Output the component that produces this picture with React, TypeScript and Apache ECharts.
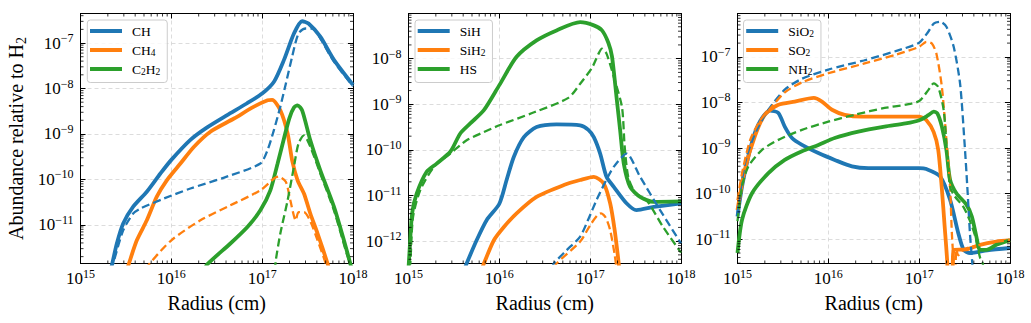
import React, { useEffect, useRef } from 'react';
import * as echarts from 'echarts';

type Pt = [number, number];

const FONT = 'Liberation Serif';
const BLUE = '#1f77b4';
const ORANGE = '#ff7f0e';
const GREEN = '#2ca02c';
const COLORS = [BLUE, ORANGE, GREEN];

// x: log10(radius / cm), y: log10(abundance relative to H2)
const X_RANGE: Pt = [15, 18];
const Y_RANGES: Pt[] = [[-11.85, -6.35], [-12.49, -7.01], [-11.53, -6.05]];

// ---- Panel 1 ----
const CH_SOLID: Pt[] = [[15.33,-12.0],[15.35,-11.85],[15.40,-11.41],[15.47,-10.97],[15.58,-10.60],[15.73,-10.27],[15.88,-9.87],[16.0,-9.57],[16.21,-9.13],[16.39,-8.86],[16.61,-8.59],[16.83,-8.33],[17.0,-8.11],[17.13,-7.85],[17.24,-7.37],[17.35,-6.79],[17.44,-6.52],[17.51,-6.57],[17.64,-6.86],[17.79,-7.37],[18.0,-7.92]];
const CH_DASH: Pt[] = [[15.34,-12.0],[15.36,-11.85],[15.47,-11.12],[15.58,-10.75],[15.66,-10.64],[15.92,-10.42],[16.21,-10.20],[16.61,-9.94],[16.98,-9.65],[17.06,-9.35],[17.13,-8.91],[17.20,-8.40],[17.26,-7.90],[17.33,-7.30],[17.40,-6.79],[17.48,-6.68],[17.55,-6.68],[17.64,-6.90],[17.79,-7.41],[18.0,-7.95]];
const CH4_SOLID: Pt[] = [[15.51,-12.0],[15.53,-11.87],[15.62,-11.34],[15.73,-10.90],[15.84,-10.38],[15.95,-10.02],[16.10,-9.65],[16.25,-9.28],[16.43,-8.95],[16.69,-8.66],[16.91,-8.40],[17.06,-8.26],[17.11,-8.25],[17.20,-8.48],[17.28,-8.99],[17.33,-9.58],[17.39,-10.02],[17.46,-10.31],[17.53,-10.75],[17.61,-11.19],[17.72,-11.85],[17.74,-12.0]];
const CH4_DASH: Pt[] = [[15.73,-12.0],[15.75,-11.88],[16.0,-11.34],[16.32,-10.90],[16.65,-10.57],[16.98,-10.24],[17.13,-9.98],[17.18,-9.94],[17.26,-10.05],[17.31,-10.46],[17.37,-10.90],[17.40,-10.72],[17.46,-10.72],[17.53,-10.92],[17.61,-11.34],[17.70,-11.85],[17.72,-12.0]];
const C2H2_SOLID: Pt[] = [[16.37,-12.0],[16.39,-11.88],[16.65,-11.41],[16.84,-11.04],[16.98,-10.68],[17.09,-10.24],[17.17,-9.65],[17.24,-9.10],[17.30,-8.65],[17.35,-8.42],[17.39,-8.37],[17.44,-8.48],[17.53,-9.14],[17.64,-9.80],[17.79,-10.60],[17.90,-11.34],[17.97,-11.85],[17.99,-12.0]];
const C2H2_DASH: Pt[] = [[17.14,-12.0],[17.15,-11.78],[17.20,-11.19],[17.28,-10.46],[17.35,-9.72],[17.40,-9.21],[17.46,-9.03],[17.53,-9.28],[17.64,-9.87],[17.79,-10.68],[17.93,-11.63],[17.97,-11.85],[17.99,-12.0]];

// ---- Panel 2 ----
const SIH_SOLID: Pt[] = [[15.62,-12.6],[15.64,-12.49],[15.75,-11.98],[15.86,-11.54],[16.0,-11.18],[16.08,-10.66],[16.16,-10.15],[16.27,-9.72],[16.41,-9.50],[16.63,-9.44],[16.89,-9.46],[16.98,-9.56],[17.04,-9.72],[17.11,-10.08],[17.18,-10.59],[17.26,-10.81],[17.40,-11.17],[17.51,-11.32],[17.70,-11.25],[18.0,-11.17]];
const SIH_DASH: Pt[] = [[16.58,-12.6],[16.60,-12.49],[16.74,-12.20],[16.89,-11.90],[16.98,-11.52],[17.07,-11.10],[17.18,-10.65],[17.26,-10.37],[17.40,-10.08],[17.55,-10.59],[17.77,-11.32],[18.0,-12.05]];
const SIH2_SOLID: Pt[] = [[15.81,-12.6],[15.83,-12.49],[15.94,-11.98],[16.05,-11.69],[16.19,-11.39],[16.41,-11.03],[16.71,-10.77],[16.89,-10.66],[17.04,-10.59],[17.15,-10.74],[17.22,-11.17],[17.27,-11.76],[17.31,-12.41],[17.32,-12.6]];
const SIH2_DASH: Pt[] = [[16.61,-12.6],[16.63,-12.49],[16.89,-12.01],[17.0,-11.65],[17.08,-11.43],[17.12,-11.39],[17.17,-11.48],[17.22,-11.76],[17.27,-12.3],[17.29,-12.6]];
const HS_SOLID: Pt[] = [[15.0,-12.6],[15.01,-12.27],[15.04,-11.39],[15.09,-10.96],[15.20,-10.48],[15.31,-10.30],[15.46,-10.04],[15.57,-9.64],[15.68,-9.42],[15.83,-9.13],[16.0,-8.58],[16.19,-7.96],[16.41,-7.60],[16.63,-7.38],[16.89,-7.20],[17.04,-7.27],[17.13,-7.38],[17.20,-7.65],[17.24,-7.95],[17.29,-8.84],[17.33,-9.57],[17.37,-10.30],[17.44,-10.81],[17.55,-11.03],[17.70,-11.14],[18.0,-11.13]];
const HS_DASH: Pt[] = [[15.01,-12.6],[15.02,-12.49],[15.05,-11.47],[15.13,-10.88],[15.28,-10.37],[15.46,-10.08],[15.64,-9.79],[15.83,-9.61],[16.0,-9.46],[16.39,-9.17],[16.76,-8.86],[16.89,-8.55],[17.02,-8.20],[17.09,-7.90],[17.13,-7.78],[17.18,-7.89],[17.26,-8.40],[17.35,-9.06],[17.38,-9.93],[17.42,-10.60],[17.50,-10.95],[17.62,-11.10],[17.80,-11.68],[18.0,-12.25]];

// ---- Panel 3 ----
const SIO2_SOLID: Pt[] = [[15.0,-10.50],[15.05,-9.84],[15.12,-9.18],[15.19,-8.67],[15.27,-8.34],[15.36,-8.18],[15.45,-8.23],[15.52,-8.53],[15.60,-8.78],[15.71,-8.93],[15.89,-9.11],[16.07,-9.26],[16.26,-9.40],[16.44,-9.44],[16.75,-9.44],[17.0,-9.44],[17.08,-9.46],[17.23,-9.62],[17.34,-10.13],[17.43,-10.86],[17.49,-11.23],[17.56,-11.30],[17.75,-11.24],[18.0,-11.19]];
const SIO2_DASH: Pt[] = [[15.0,-10.43],[15.05,-9.70],[15.10,-9.19],[15.21,-8.61],[15.34,-8.16],[15.52,-7.72],[15.71,-7.48],[16.0,-7.28],[16.39,-7.08],[16.75,-6.87],[17.0,-6.69],[17.10,-6.45],[17.16,-6.27],[17.23,-6.23],[17.30,-6.34],[17.38,-6.78],[17.45,-7.58],[17.50,-8.90],[17.53,-9.85],[17.56,-10.90],[17.585,-11.53],[17.59,-11.7]];
const SO2_SOLID: Pt[] = [[15.0,-10.36],[15.08,-9.48],[15.19,-8.75],[15.30,-8.27],[15.45,-8.05],[15.63,-7.98],[15.84,-7.90],[15.93,-7.98],[16.04,-8.16],[16.18,-8.27],[16.37,-8.31],[16.62,-8.31],[17.0,-8.31],[17.08,-8.39],[17.16,-8.65],[17.21,-9.04],[17.25,-9.90],[17.28,-10.70],[17.31,-11.53],[17.32,-12.2],[17.36,-12.2],[17.37,-11.5],[17.38,-11.23],[17.52,-11.22],[17.67,-11.12],[17.85,-11.05],[18.0,-11.02]];
const SO2_DASH: Pt[] = [[15.0,-10.14],[15.05,-9.55],[15.14,-8.82],[15.25,-8.39],[15.34,-8.18],[15.52,-7.78],[15.71,-7.56],[16.0,-7.36],[16.39,-7.15],[16.75,-6.95],[17.0,-6.78],[17.08,-6.67],[17.14,-6.71],[17.19,-6.93],[17.25,-7.66],[17.30,-8.82],[17.34,-9.85],[17.36,-10.87],[17.38,-11.53],[17.39,-11.8],[17.40,-11.6],[17.41,-11.2],[17.43,-11.35],[17.49,-11.22],[17.67,-11.12],[17.85,-11.05],[18.0,-11.02]];
const NH2_SOLID: Pt[] = [[15.0,-11.30],[15.05,-10.57],[15.16,-9.99],[15.34,-9.55],[15.52,-9.26],[15.71,-9.07],[15.89,-8.93],[16.07,-8.78],[16.33,-8.64],[16.62,-8.53],[16.85,-8.46],[17.0,-8.39],[17.10,-8.28],[17.16,-8.20],[17.20,-8.24],[17.25,-8.53],[17.30,-9.04],[17.34,-9.69],[17.41,-9.99],[17.52,-10.24],[17.58,-10.50],[17.63,-10.94],[17.67,-11.23],[17.74,-11.23],[17.85,-11.12],[18.0,-11.02]];
const NH2_DASH: Pt[] = [[15.0,-10.6],[15.05,-9.84],[15.12,-9.40],[15.27,-9.04],[15.45,-8.82],[15.71,-8.60],[16.0,-8.42],[16.29,-8.27],[16.62,-8.12],[16.85,-8.05],[17.0,-7.97],[17.10,-7.73],[17.16,-7.58],[17.21,-7.66],[17.27,-8.17],[17.31,-9.19],[17.34,-9.85],[17.39,-10.05],[17.49,-10.30],[17.56,-10.60],[17.62,-10.95],[17.67,-11.40],[17.70,-11.53],[17.71,-11.7]];

const PANEL_NAMES = [
  ['CH', 'CH4', 'C2H2'],
  ['SiH', 'SiH2', 'HS'],
  ['SiO2', 'SO2', 'NH2'],
];
const LEGEND_LABELS: Record<string, string> = {
  CH: '{n|CH}', CH4: '{n|CH}{s|4}', C2H2: '{n|C}{s|2}{n|H}{s|2}',
  SiH: '{n|SiH}', SiH2: '{n|SiH}{s|2}', HS: '{n|HS}',
  SiO2: '{n|SiO}{s|2}', SO2: '{n|SO}{s|2}', NH2: '{n|NH}{s|2}',
};
const X_TITLE = '{t|Radius (cm)}';
const Y_TITLE = '{t|Abundance relative to H}{sub|2}';
const PANEL_SOLID: Pt[][][] = [
  [CH_SOLID, CH4_SOLID, C2H2_SOLID],
  [SIH_SOLID, SIH2_SOLID, HS_SOLID],
  [SIO2_SOLID, SO2_SOLID, NH2_SOLID],
];
const PANEL_DASH: Pt[][][] = [
  [CH_DASH, CH4_DASH, C2H2_DASH],
  [SIH_DASH, SIH2_DASH, HS_DASH],
  [SIO2_DASH, SO2_DASH, NH2_DASH],
];

// layout
const GRID_LEFTS = [80.5, 408.5, 737.5];
const GRID_TOP = 13.5;
const GRID_W = 272.5;
const GRID_H = 250;
const LEGEND_LEFTS = [87.3, 415, 743.5];
const LEGEND_TOP = 20;

const powLabel = (v: number) => {
  const e = Math.round(v);
  if (Math.abs(v - e) > 1e-6) return '';
  return `{b|10}{s|${e < 0 ? '\u2212' + -e : e}}`;
};

const tickRich = {
  b: { fontSize: 17, lineHeight: 22, fontFamily: FONT, color: '#000' },
  s: { fontSize: 12, lineHeight: 13, verticalAlign: 'top', fontFamily: FONT, color: '#000' },
};

const AX_LINE = { show: true, onZero: false, lineStyle: { color: '#000', width: 1 } };
const AX_TICK = { show: true, inside: true, length: 5, lineStyle: { color: '#000', width: 1 } };
const SPLIT = {
  show: true,
  showMinLine: false,
  showMaxLine: false,
  lineStyle: { color: '#d3d3d3', width: 0.8, type: [4, 3] },
};

function minorValues(lo: number, hi: number): number[] {
  const out: number[] = [];
  for (let d = Math.floor(lo); d <= Math.ceil(hi); d++) {
    for (let m = 2; m <= 9; m++) {
      const v = d + Math.log10(m);
      if (v > lo && v < hi) out.push(v);
    }
  }
  return out;
}

function buildOption() {
  const grid: any[] = [];
  const xAxis: any[] = [];
  const yAxis: any[] = [];
  const legend: any[] = [];
  const series: any[] = [];

  for (let g = 0; g < 3; g++) {
    const [yMin, yMax] = Y_RANGES[g];
    grid.push({ left: GRID_LEFTS[g], top: GRID_TOP, width: GRID_W, height: GRID_H });

    xAxis.push({
      gridIndex: g, type: 'value', position: 'bottom', min: X_RANGE[0], max: X_RANGE[1], interval: 1,
      axisLine: AX_LINE, axisTick: AX_TICK, splitLine: SPLIT,
      axisLabel: { formatter: powLabel, rich: tickRich, margin: 4, showMinLabel: true, showMaxLabel: true, interval: 0 },
      name: X_TITLE, nameLocation: 'middle', nameGap: 25,
      nameTextStyle: {
        fontFamily: FONT, fontSize: 20, color: '#000', lineHeight: 22,
        rich: { t: { fontFamily: FONT, fontSize: 20, lineHeight: 22, color: '#000' } },
      },
    });
    xAxis.push({
      gridIndex: g, type: 'value', position: 'top', min: X_RANGE[0], max: X_RANGE[1], interval: 1,
      axisLine: AX_LINE, axisTick: AX_TICK, splitLine: { show: false }, axisLabel: { show: false },
    });
    const yLeft: any = {
      gridIndex: g, type: 'value', position: 'left', min: yMin, max: yMax,
      minInterval: 1, maxInterval: 1, splitNumber: 5,
      axisLine: AX_LINE, axisTick: AX_TICK, splitLine: SPLIT,
      axisLabel: { formatter: powLabel, rich: tickRich, margin: 7, interval: 0 },
    };
    if (g === 0) {
      yLeft.name = Y_TITLE;
      yLeft.nameLocation = 'middle';
      yLeft.nameRotate = 90;
      yLeft.nameGap = 52;
      yLeft.nameTextStyle = {
        fontFamily: FONT, fontSize: 20, color: '#000', lineHeight: 26,
        rich: {
          t: { fontFamily: FONT, fontSize: 20, lineHeight: 26, color: '#000' },
          sub: { fontFamily: FONT, fontSize: 14, lineHeight: 14, verticalAlign: 'bottom', color: '#000' },
        },
      };
    }
    yAxis.push(yLeft);
    yAxis.push({
      gridIndex: g, type: 'value', position: 'right', min: yMin, max: yMax,
      minInterval: 1, maxInterval: 1, splitNumber: 5,
      axisLine: AX_LINE, axisTick: AX_TICK, splitLine: { show: false }, axisLabel: { show: false },
    });

    legend.push({
      show: true, orient: 'vertical', left: LEGEND_LEFTS[g], top: LEGEND_TOP,
      data: PANEL_NAMES[g].map((n) => ({ name: n, icon: 'rect' })),
      itemWidth: 32, itemHeight: 4, itemGap: 4,
      padding: [3.5, 7, 6, 2.7],
      selectedMode: false,
      formatter: (n: string) => LEGEND_LABELS[n],
      textStyle: {
        fontFamily: FONT, fontSize: 13.5, color: '#000', lineHeight: 15, padding: [0, 0, 0, 5],
        rich: {
          n: { fontFamily: FONT, fontSize: 13.5, lineHeight: 15, color: '#000' },
          s: { fontFamily: FONT, fontSize: 9.5, lineHeight: 9, verticalAlign: 'bottom', color: '#000' },
        },
      },
      borderColor: '#cccccc', borderWidth: 1, borderRadius: 3,
      backgroundColor: 'rgba(255,255,255,0.8)',
    });

    for (let i = 0; i < 3; i++) {
      series.push({
        type: 'line', name: PANEL_NAMES[g][i], xAxisIndex: 2 * g, yAxisIndex: 2 * g,
        data: PANEL_SOLID[g][i], showSymbol: false, symbol: 'none', smooth: 0.25, clip: true,
        lineStyle: { color: COLORS[i], width: 3.8 }, itemStyle: { color: COLORS[i] },
        silent: true, z: 3,
      });
    }
    for (let i = 0; i < 3; i++) {
      series.push({
        type: 'line', name: PANEL_NAMES[g][i] + ' (dashed)', xAxisIndex: 2 * g, yAxisIndex: 2 * g,
        data: PANEL_DASH[g][i], showSymbol: false, symbol: 'none', smooth: 0.25, clip: true,
        lineStyle: { color: COLORS[i], width: 2.3, type: [8, 4] }, itemStyle: { color: COLORS[i] },
        silent: true, z: 4,
      });
    }

    // minor ticks (log-decade sub-ticks 2..9)
    const xm = minorValues(X_RANGE[0], X_RANGE[1]).map((v) => [v, yMin]);
    const ym = minorValues(yMin, yMax).map((v) => [X_RANGE[0], v]);
    const tickStyle = { stroke: '#000', lineWidth: 0.8 };
    series.push({
      type: 'custom', name: 'xminor' + g, xAxisIndex: 2 * g, yAxisIndex: 2 * g, data: xm, silent: true, clip: false, z: 5,
      renderItem: (params: any, api: any) => {
        const cs = params.coordSys;
        const p = api.coord([api.value(0), api.value(1)]);
        const b = cs.y + cs.height;
        return {
          type: 'group',
          children: [
            { type: 'line', shape: { x1: p[0], y1: b, x2: p[0], y2: b - 3 }, style: tickStyle },
            { type: 'line', shape: { x1: p[0], y1: cs.y, x2: p[0], y2: cs.y + 3 }, style: tickStyle },
          ],
        };
      },
    });
    series.push({
      type: 'custom', name: 'yminor' + g, xAxisIndex: 2 * g, yAxisIndex: 2 * g, data: ym, silent: true, clip: false, z: 5,
      renderItem: (params: any, api: any) => {
        const cs = params.coordSys;
        const p = api.coord([api.value(0), api.value(1)]);
        const r = cs.x + cs.width;
        return {
          type: 'group',
          children: [
            { type: 'line', shape: { x1: cs.x, y1: p[1], x2: cs.x + 3, y2: p[1] }, style: tickStyle },
            { type: 'line', shape: { x1: r, y1: p[1], x2: r - 3, y2: p[1] }, style: tickStyle },
          ],
        };
      },
    });
  }

  return {
    animation: false,
    backgroundColor: '#ffffff',
    textStyle: { fontFamily: FONT },
    grid, xAxis, yAxis, legend, series,
  };
}

export default function App() {
  const ref = useRef<HTMLDivElement>(null);
  useEffect(() => {
    if (!ref.current) return;
    const chart = echarts.init(ref.current, undefined, { renderer: 'svg' });
    chart.setOption(buildOption() as any);
    return () => chart.dispose();
  }, []);
  return (
    <div
      ref={ref}
      style={{ position: 'absolute', left: 0, top: 0, width: 1031, height: 323 }}
    />
  );
}
